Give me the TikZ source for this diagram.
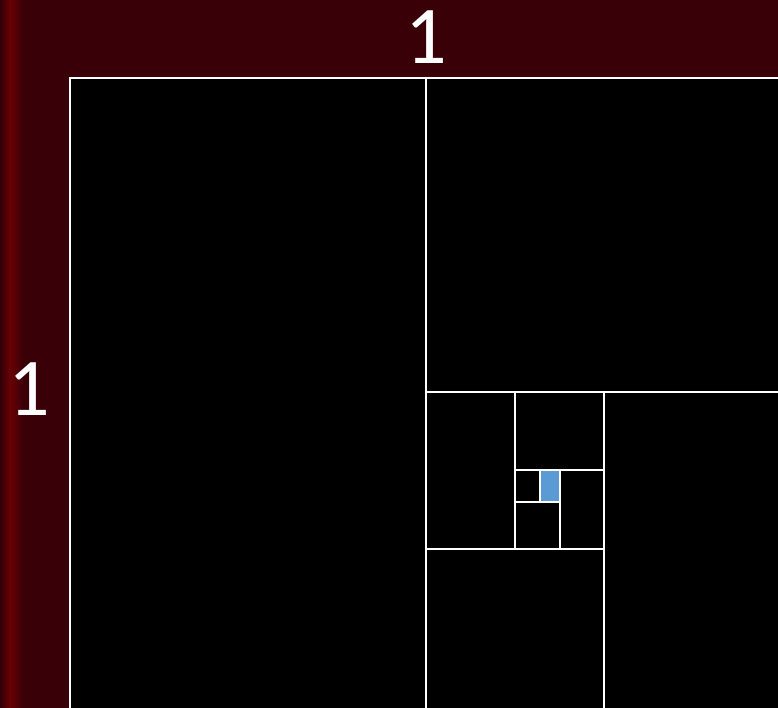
\documentclass[tikz,border=0pt]{standalone}
\usepackage{fontspec}
\setmainfont{Carlito}
\usepackage{xcolor}
\usepackage{tikz}
\definecolor{bgred}{HTML}{3A0008}
\definecolor{edgered}{HTML}{680005}
\definecolor{tileblue}{HTML}{5B9BD5}

\begin{document}
\begin{tikzpicture}[
  x=1pt, y=-1pt,
  tile/.style={draw=white, line width=2.4pt, fill=black},
  edge/.style={white, line width=2.4pt},
  lbl/.style={text=white, font=\fontsize{82}{82}\selectfont, inner sep=0pt}
]
\useasboundingbox (0,0) rectangle (778,708);
\fill[bgred] (0,0) rectangle (778,708);
\shade[left color=bgred!85!black, right color=edgered] (0,0) rectangle (10,708);
\shade[left color=edgered, right color=bgred] (10,0) rectangle (23,708);

% golden squares
\begin{scope}
\clip (0,0) rectangle (778,708);
\draw[tile] (70,78) rectangle (800,730);
\draw[edge] (426,78) -- (426,730);
\draw[edge] (426,392) -- (800,392);
\draw[edge] (604,392) -- (604,730);
\draw[edge] (426,549) -- (604,549);
\draw[edge] (515,392) -- (515,549);
\draw[edge] (515,470) -- (604,470);
\draw[edge] (560,470) -- (560,549);
\draw[edge] (515,502) -- (560,502);
\draw[edge, fill=tileblue] (540,470) rectangle (560,502);
\end{scope}

\node[lbl] (top) at (426,37) {1};
\node[lbl] (side) at (29,389) {1};
\end{tikzpicture}
\end{document}
